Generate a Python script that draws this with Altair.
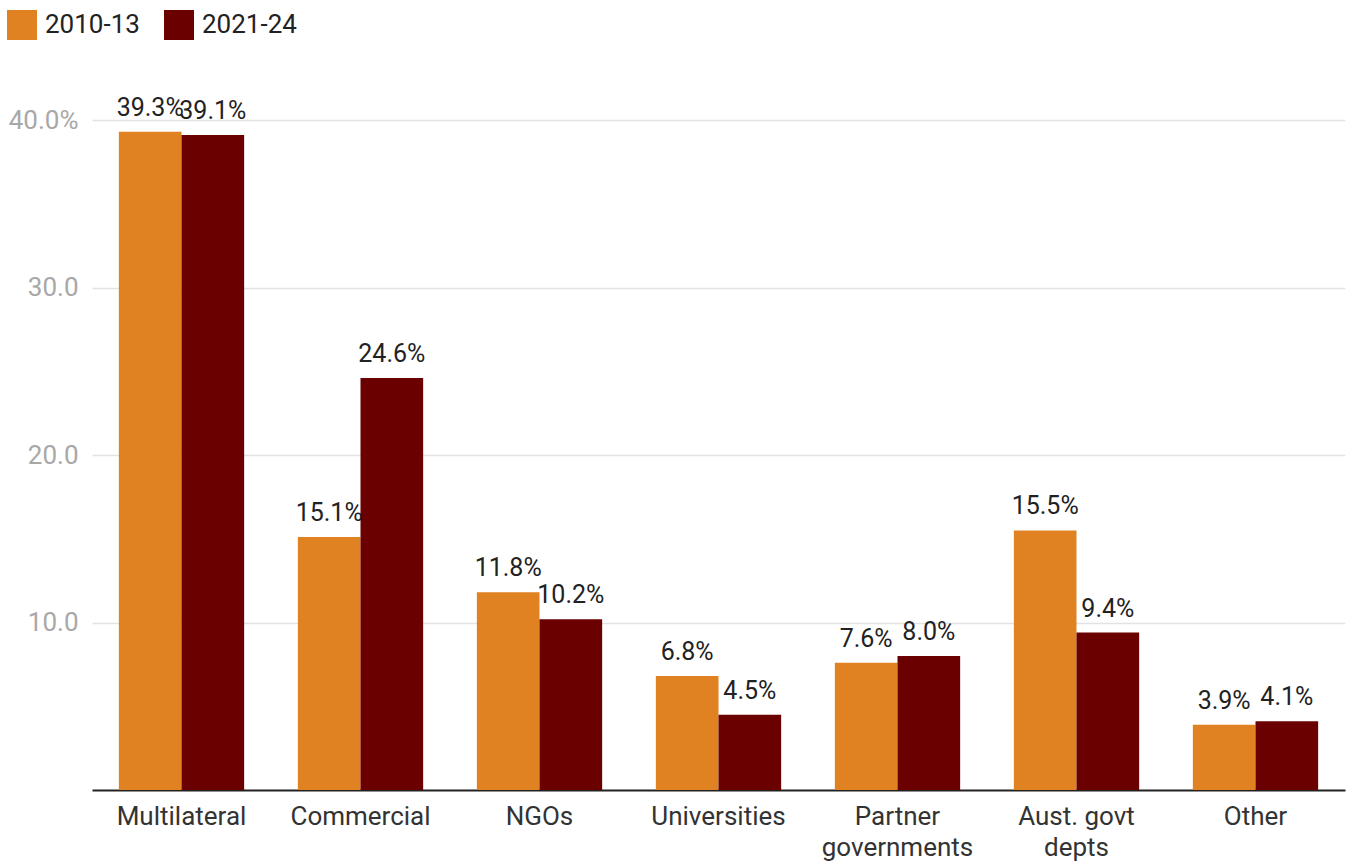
import altair as alt
import pandas as pd

categories = ["Multilateral", "Commercial", "NGOs", "Universities",
              "Partner|governments", "Aust. govt|depts", "Other"]
periods = ["2010-13", "2021-24"]
values_2010_13 = [39.3, 15.1, 11.8, 6.8, 7.6, 15.5, 3.9]
values_2021_24 = [39.1, 24.6, 10.2, 4.5, 8.0, 9.4, 4.1]
colors = ["#E08122", "#6B0000"]

rows = []
for c, a, b in zip(categories, values_2010_13, values_2021_24):
    rows.append({"category": c, "period": periods[0], "value": a})
    rows.append({"category": c, "period": periods[1], "value": b})
df = pd.DataFrame(rows)

FONT = "Roboto"

x_enc = alt.X("category:N", sort=categories, title=None,
              scale=alt.Scale(paddingInner=0.3, paddingOuter=0.15),
              axis=alt.Axis(labelExpr="split(datum.label, '|')", labelAngle=0,
                            labelFontSize=26, labelColor="#333333", labelFont=FONT,
                            labelPadding=13, labelLineHeight=31, ticks=False,
                            domainColor="#222222", domainWidth=2, grid=False,
                            labelBaseline="top"))
y_enc = alt.Y("value:Q", title=None,
              scale=alt.Scale(domain=[0, 40], nice=False),
              axis=alt.Axis(values=[10, 20, 30, 40],
                            labelExpr="datum.value == 40 ? '40.0%' : format(datum.value, '.1f')",
                            labelFontSize=26, labelColor="#A8A8A8", labelFont=FONT,
                            labelPadding=14, ticks=False, domain=False,
                            gridColor="#E3E3E3", gridWidth=1.5))

base = alt.Chart(df).encode(
    x=x_enc,
    xOffset=alt.XOffset("period:N", sort=periods),
    y=y_enc,
)

bars = base.mark_bar().encode(
    color=alt.Color("period:N", sort=periods,
                    scale=alt.Scale(domain=periods, range=colors),
                    legend=alt.Legend(title=None, orient="none", direction="horizontal",
                                      legendX=-85, legendY=-110,
                                      symbolType="square", symbolSize=900,
                                      symbolStrokeWidth=0, symbolOpacity=1,
                                      labelFontSize=26, labelFont=FONT,
                                      labelColor="#222222", labelOffset=8,
                                      columnPadding=24)),
)

labels = base.mark_text(baseline="alphabetic", dy=-16, fontSize=25, font=FONT,
                        color="#222222").encode(
    text=alt.Text("label:N")
).transform_calculate(label="format(datum.value, '.1f') + '%'")

chart = (bars + labels).properties(
    width=1253, height=670,
    autosize=alt.AutoSizeParams(type="none"),
    padding={"left": 92, "top": 120, "right": 4, "bottom": 72},
    background="white",
).configure_view(stroke=None)

chart.save("out.html", embed_options={"renderer": "svg", "actions": False})
